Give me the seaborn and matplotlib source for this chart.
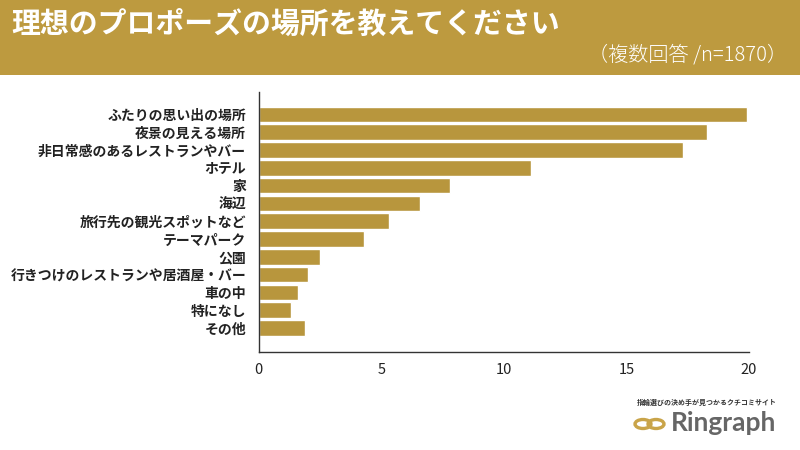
import matplotlib
matplotlib.use("Agg")
import matplotlib.pyplot as plt
from matplotlib.patches import Rectangle, Circle
import seaborn as sns
import pandas as pd

# data
places = [
    "ふたりの思い出の場所",
    "夜景の見える場所",
    "非日常感のあるレストランやバー",
    "ホテル",
    "家",
    "海辺",
    "旅行先の観光スポットなど",
    "テーマパーク",
    "公園",
    "行きつけのレストランや居酒屋・バー",
    "車の中",
    "特になし",
    "その他",
]
percent = [19.9, 18.3, 17.3, 11.1, 7.8, 6.6, 5.3, 4.3, 2.5, 2.0, 1.6, 1.3, 1.9]
xticks = [0, 5, 10, 15, 20]

title = "理想のプロポーズの場所を教えてください"
subtitle = "（複数回答 /n=1870）"

gold = "#B8963D"
header_gold = "#BD9A3F"
dark = "#222222"

sns.set_theme(style="white")
plt.rcParams["font.family"] = ["Noto Sans CJK JP", "DejaVu Sans"]

df = pd.DataFrame({"place": places, "percent": percent})

fig = plt.figure(figsize=(8, 4.5), dpi=100)
fig.patch.set_facecolor("white")

# header band
fig.patches.append(Rectangle((0, 1 - 75 / 450), 1, 75 / 450, transform=fig.transFigure,
                             facecolor=header_gold, edgecolor="none", zorder=0))
fig.text(11 / 800, 1 - 24 / 450, title, color="white", fontsize=20.8, fontweight="bold",
         va="center", ha="left")
fig.text(787 / 800, 1 - 55 / 450, subtitle, color="white", fontsize=14.5, fontweight="light",
         va="center", ha="right")

ax = fig.add_axes([258.7 / 800, 1 - 352 / 450, 490.3 / 800, 260 / 450])
sns.barplot(data=df, x="percent", y="place", orient="h", color=gold, width=0.88,
            saturation=1, ax=ax)

ax.set_xlim(0, 20)
ax.set_ylim(len(places) - 1 + 1.35, -1.26)
ax.set_xticks(xticks)
ax.set_xlabel("")
ax.set_ylabel("")
for s in ["top", "right"]:
    ax.spines[s].set_visible(False)
for s in ["left", "bottom"]:
    ax.spines[s].set_color("#333333")
    ax.spines[s].set_linewidth(1.0)
ax.tick_params(axis="x", direction="in", length=5, width=1, color="#333333",
               labelsize=10.5, labelcolor=dark, pad=8)
ax.tick_params(axis="y", length=0, labelsize=10, labelcolor=dark, pad=9)
for lab in ax.get_yticklabels():
    lab.set_fontweight("bold")

# logo
fig.text(707 / 800, 1 - 402 / 450, "指輪選びの決め手が見つかるクチコミサイト", color="#333333",
         fontsize=5, fontweight="bold", ha="center", va="center")
fig.text(671 / 800, 1 - 423 / 450, "Ringraph", color="#666666", fontsize=19,
         fontweight="bold", ha="left", va="center", family=["Lato", "DejaVu Sans"])
for cx in (643, 656):
    fig.patches.append(Circle((cx / 800, 1 - 424 / 450), 8 / 800, transform=fig.transFigure,
                              facecolor="none", edgecolor="#C9A449", linewidth=2.4))

fig.savefig("out.png", dpi=100)
